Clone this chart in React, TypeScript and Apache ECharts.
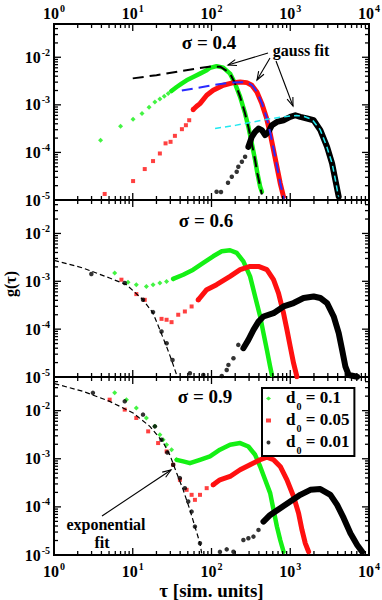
import React, { useEffect, useRef } from 'react';
import * as echarts from 'echarts';

const SERIF = "'Liberation Serif', 'DejaVu Serif', serif";
const GREEN = '#14f014';
const RED = '#ff1010';
const BLACK = '#000000';

const X_MIN = 1;
const X_MAX = 10000;
const Y_MIN = 1e-5;
const Y_MAX = 0.05;

const legendNames = ['d0 = 0.1', 'd0 = 0.05', 'd0 = 0.01'];
const legendValues = ['0.1', '0.05', '0.01'];
const panelTitles = ['σ = 0.4', 'σ = 0.6', 'σ = 0.9'];
const xDecades = [1, 10, 100, 1000];
const yDecades = [1e-5, 1e-4, 1e-3, 1e-2];
const tickFactors = [1, 2, 3, 4, 5, 6, 7, 8, 9];

// ---------- panel 1 : sigma = 0.4 ----------
const s04GreenPts = [[3.9, 1.8e-4], [7.0, 3.55e-4], [10.1, 5.0e-4], [13.1, 6.6e-4], [16.1, 8.9e-4], [19.1, 1.15e-3], [22.1, 1.33e-3], [25.1, 1.51e-3], [28.2, 1.73e-3], [31.1, 1.96e-3]];
const s04GreenBand = [[31, 1.96e-3], [36.1, 2.37e-3], [41.7, 2.8e-3], [48.3, 3.28e-3], [58.6, 3.85e-3], [71.4, 4.53e-3], [86.9, 5.31e-3], [95.7, 6.0e-3], [116, 6.5e-3], [141, 6.05e-3], [172, 4.53e-3], [199, 2.8e-3], [231, 1.47e-3], [267, 6.6e-4], [294, 3.44e-4], [325, 1.55e-4], [358, 6.9e-5], [383, 3.63e-5], [415, 1.9e-5], [436, 1.49e-5]];
const s04RedPts = [[4.4, 1.34e-5], [10.1, 2.5e-5], [14.2, 4.47e-5], [18.1, 6.58e-5], [22.1, 9.5e-5], [26.1, 1.55e-4], [30.2, 1.67e-4], [34.3, 2.23e-4], [42.1, 3.08e-4], [47.3, 3.73e-4], [52.1, 4.75e-4], [58.6, 7.96e-4]];
const s04RedBand = [[58.6, 7.96e-4], [64.8, 9.35e-4], [71.4, 1.06e-3], [86.9, 1.59e-3], [105, 2.02e-3], [141, 2.58e-3], [190, 2.93e-3], [231, 3.02e-3], [281, 2.93e-3], [325, 2.58e-3], [377, 1.86e-3], [436, 1.06e-3], [495, 5.57e-4], [556, 2.5e-4], [613, 1.12e-4], [677, 5.0e-5], [746, 2.24e-5], [822, 1.17e-5]];
const s04BlackPts = [[116, 1.49e-5], [132, 1.47e-5], [162, 2.31e-5], [181, 3.08e-5], [209, 3.92e-5], [219, 4.99e-5], [243, 6.35e-5], [267, 8.1e-5], [294, 1.31e-4]];
const s04BlackBand = [[294, 1.31e-4], [325, 2.12e-4], [358, 2.7e-4], [395, 3.18e-4], [436, 2.94e-4], [480, 2.31e-4], [529, 2.7e-4], [585, 3.73e-4], [677, 4.38e-4], [822, 4.75e-4], [1000, 5.57e-4], [1159, 6.05e-4], [1341, 5.57e-4], [1633, 5.16e-4], [1983, 4.75e-4], [2410, 2.94e-4], [2936, 1.31e-4], [3397, 5.87e-5], [3742, 2.62e-5], [4125, 1.17e-5]];
const s04FitBlack = [[10, 3.6e-3], [20, 4.2e-3], [40, 5.1e-3], [70, 5.9e-3], [100, 6.4e-3], [130, 6.3e-3], [170, 4.7e-3], [200, 2.8e-3], [230, 1.5e-3], [267, 6.6e-4], [294, 3.44e-4], [325, 1.55e-4], [358, 6.9e-5], [383, 3.6e-5], [415, 1.9e-5], [436, 1.3e-5]];
const s04FitBlue = [[42, 2.0e-3], [80, 2.4e-3], [130, 2.75e-3], [190, 2.95e-3], [240, 3.0e-3], [290, 2.9e-3], [330, 2.55e-3], [380, 1.85e-3], [440, 1.05e-3], [500, 5.5e-4], [560, 2.5e-4], [620, 1.1e-4], [680, 5.0e-5], [750, 2.2e-5], [830, 1.05e-5]];
const s04FitCyan = [[111, 3.2e-4], [200, 3.7e-4], [350, 4.4e-4], [550, 5.1e-4], [900, 5.7e-4], [1200, 6.0e-4], [1500, 5.7e-4], [1900, 4.9e-4], [2400, 3.0e-4], [2900, 1.35e-4], [3400, 5.9e-5], [3750, 2.6e-5], [4100, 1.15e-5]];

// ---------- panel 2 : sigma = 0.6 ----------
const s06Fit = [[1.0, 2.74e-3], [2.33, 1.9e-3], [5.09, 1.17e-3], [8.31, 8.5e-4], [13.5, 4.11e-4], [18.1, 2.16e-4], [22.1, 9.66e-5], [26.9, 4.31e-5], [31.1, 2.27e-5], [36.1, 1.1e-5]];
const s06GreenPts = [[5.9, 1.49e-3], [8.71, 9.6e-4], [11.1, 8.5e-4], [14.9, 7.8e-4], [18.1, 8.5e-4], [22.1, 9.2e-4], [26.9, 9.95e-4], [32.6, 1.12e-3]];
const s06GreenBand = [[32.6, 1.12e-3], [43.7, 1.37e-3], [58.6, 1.75e-3], [78.6, 2.42e-3], [105, 3.33e-3], [135, 4.24e-3], [172, 4.45e-3], [209, 3.92e-3], [254, 2.61e-3], [309, 1.27e-3], [358, 4.82e-4], [415, 1.84e-4], [457, 8.24e-5], [505, 3.68e-5], [556, 1.64e-5], [585, 1.1e-5]];
const s06RedPts = [[7.18, 1.08e-3], [11.1, 5.4e-4], [14.2, 4.1e-4], [23.2, 1.64e-4], [26.9, 1.57e-4], [31.1, 1.4e-4], [37.8, 2.0e-4], [45.9, 2.34e-4], [55.9, 2.98e-4], [67.9, 4.1e-4]];
const s06RedBand = [[67.9, 4.1e-4], [86.9, 6.67e-4], [116, 8.5e-4], [172, 1.27e-3], [231, 1.75e-3], [309, 2.05e-3], [395, 2.05e-3], [505, 1.75e-3], [613, 1.08e-3], [709, 5.69e-4], [822, 2.16e-4], [908, 9.66e-5], [1000, 4.31e-5], [1102, 1.94e-5], [1217, 1.01e-5]];
const s06BlackPts = [[2.98, 1.42e-3], [7.91, 9.2e-4], [13.5, 4.11e-4], [18.1, 2.27e-4], [23.2, 8.9e-5], [26.9, 5.09e-5], [32.0, 2.27e-5], [53.2, 1.2e-5], [78.6, 1.1e-5], [135, 1.05e-5], [156, 1.4e-5], [164, 1.79e-5], [190, 2.47e-5], [219, 4.69e-5], [254, 4.0e-5]];
const s06BlackBand = [[254, 4.0e-5], [294, 5.97e-5], [341, 9.66e-5], [395, 1.44e-4], [457, 1.84e-4], [613, 2.16e-4], [822, 2.98e-4], [1102, 3.51e-4], [1477, 4.47e-4], [1983, 4.82e-4], [2410, 4.47e-4], [2936, 3.51e-4], [3562, 1.84e-4], [4125, 8.24e-5], [4557, 3.68e-5], [5020, 1.64e-5], [5530, 1.1e-5], [7080, 1.01e-5]];

// ---------- panel 3 : sigma = 0.9 ----------
const s09Fit = [[1.01, 3.65e-2], [2.33, 2.52e-2], [5.09, 1.56e-2], [10.1, 8.96e-3], [16.5, 4.71e-3], [24.3, 2.2e-3], [29.6, 1.2e-3], [36.1, 5.04e-4], [43.7, 2.26e-4], [53.2, 8.66e-5], [61.6, 3.89e-5], [71.4, 1.75e-5], [75, 1.08e-5]];
const s09GreenPts = [[5.9, 2.34e-2], [8.31, 1.69e-2], [11.1, 1.14e-2], [14.9, 7.04e-3], [19.1, 4.71e-3], [22.1, 3.16e-3], [24.3, 2.49e-3], [26.9, 1.96e-3], [31.1, 1.54e-3], [36.1, 9.53e-4]];
const s09GreenBand = [[36.1, 9.5e-4], [43.7, 8.8e-4], [53.2, 8.1e-4], [71.4, 9.5e-4], [95.7, 1.12e-3], [128, 1.54e-3], [172, 1.96e-3], [231, 2.12e-3], [294, 1.8e-3], [358, 1.21e-3], [415, 6.9e-4], [480, 3.65e-4], [556, 1.93e-4], [613, 8.7e-5], [677, 3.9e-5], [746, 2.05e-5], [822, 1.17e-5]];
const s09RedPts = [[5.09, 1.69e-2], [7.91, 1.05e-2], [11.1, 7.04e-3], [15.7, 3.71e-3], [21.0, 2.12e-3], [26.9, 1.42e-3], [32.6, 7.5e-4], [39.7, 3.65e-4], [48.3, 2.26e-4], [55.9, 1.78e-4], [61.6, 1.4e-4], [71.4, 1.78e-4], [86.9, 2.45e-4], [105, 2.87e-4]];
const s09RedBand = [[105, 2.87e-4], [128, 3.65e-4], [172, 4.28e-4], [231, 5.9e-4], [309, 7.5e-4], [415, 9.53e-4], [505, 1.08e-3], [613, 9.53e-4], [746, 6.92e-4], [908, 3.65e-4], [1102, 1.64e-4], [1276, 7.4e-5], [1409, 3.32e-5], [1553, 1.75e-5], [1711, 1.17e-5]];
const s09BlackPts = [[3.12, 2.34e-2], [7.91, 1.56e-2], [13.5, 8.26e-3], [19.1, 4.71e-3], [23.2, 2.49e-3], [27.5, 1.35e-3], [32.6, 7.5e-4], [39.7, 3.96e-4], [45.9, 2.45e-4], [50.6, 1.29e-4], [55.9, 7.98e-5], [61.6, 3.89e-5], [71.4, 1.75e-5], [128, 1.16e-5], [156, 1.31e-5], [190, 1.17e-5], [254, 2.05e-5], [294, 2.23e-5], [341, 2.41e-5], [395, 3.32e-5], [457, 4.94e-5]];
const s09BlackBand = [[457, 4.94e-5], [556, 6.81e-5], [746, 9.39e-5], [1000, 1.29e-4], [1341, 1.78e-4], [1799, 2.26e-4], [2410, 2.34e-4], [3236, 1.78e-4], [3937, 1.1e-4], [4775, 5.82e-5], [5807, 2.83e-5], [7080, 1.62e-5], [8185, 1.17e-5]];

const expLabel = (v: number) => {
  const e = Math.log10(v);
  const r = Math.round(e);
  if (Math.abs(e - r) > 0.02) return '';
  return `{b|10}{s|${r}}`;
};

const richAxis = {
  b: { fontFamily: SERIF, fontWeight: 'bold', fontSize: 16, lineHeight: 20, color: '#000' },
  s: { fontFamily: SERIF, fontWeight: 'bold', fontSize: 10, lineHeight: 20, verticalAlign: 'top', color: '#000', padding: [0, 0, 0, 1] },
};

function scatter(name: string, data: number[][], i: number, symbol: string, color: string, size: number) {
  return { type: 'scatter', name, xAxisIndex: i, yAxisIndex: i, data, symbol, symbolSize: size, itemStyle: { color }, z: 2, silent: true };
}
function band(name: string, data: number[][], i: number, color: string, width: number) {
  return { type: 'line', name, xAxisIndex: i, yAxisIndex: i, data, symbol: 'none', showSymbol: false, lineStyle: { color, width, cap: 'round', join: 'round' }, z: 2, silent: true };
}
function fit(data: number[][], i: number, color: string, width: number, dash: number[]) {
  return { type: 'line', name: 'fit', xAxisIndex: i, yAxisIndex: i, data, symbol: 'none', showSymbol: false, lineStyle: { color, width, type: dash }, z: 4, silent: true };
}

function ticks(i: number) {
  return {
    type: 'custom', xAxisIndex: i, yAxisIndex: i, silent: true, z: 10, clip: false,
    data: [[X_MIN, Y_MIN]],
    renderItem: (_p: any, api: any) => {
      const children: any[] = [];
      const style = { stroke: '#000', lineWidth: 1.3 };
      const add = (x1: number, y1: number, x2: number, y2: number) =>
        children.push({ type: 'line', shape: { x1, y1, x2, y2 }, style });
      const xs: number[] = [];
      xDecades.forEach((d) => tickFactors.forEach((m) => xs.push(d * m)));
      xs.push(X_MAX);
      xs.forEach((v) => {
        const major = Math.abs(Math.log10(v) - Math.round(Math.log10(v))) < 1e-6;
        const len = major ? 7 : 4;
        const b = api.coord([v, Y_MIN]);
        const t = api.coord([v, Y_MAX]);
        add(b[0], b[1], b[0], b[1] - len);
        add(t[0], t[1], t[0], t[1] + len);
      });
      const ys: number[] = [];
      yDecades.forEach((d) => tickFactors.forEach((m) => { if (d * m < Y_MAX * 0.999) ys.push(d * m); }));
      ys.forEach((v) => {
        const major = Math.abs(Math.log10(v) - Math.round(Math.log10(v))) < 1e-6;
        const len = major ? 7 : 4;
        const l = api.coord([X_MIN, v]);
        const r = api.coord([X_MAX, v]);
        add(l[0], l[1], l[0] + len, l[1]);
        add(r[0], r[1], r[0] - len, r[1]);
      });
      return { type: 'group', children };
    },
  };
}

function arrow(x1: number, y1: number, x2: number, y2: number) {
  const ang = Math.atan2(y2 - y1, x2 - x1);
  const L = 9;
  const a = 0.35;
  const p1 = [x2 - L * Math.cos(ang - a), y2 - L * Math.sin(ang - a)];
  const p2 = [x2 - L * Math.cos(ang + a), y2 - L * Math.sin(ang + a)];
  return [
    { type: 'line', z: 100, shape: { x1, y1, x2, y2 }, style: { stroke: '#000', lineWidth: 1.1 } },
    { type: 'polyline', z: 100, shape: { points: [p1, [x2, y2], p2] }, style: { stroke: '#000', lineWidth: 1.1, fill: null } },
  ];
}

function label(text: string, x: number, y: number, size: number, rotation = 0) {
  return { type: 'text', z: 100, x, y, rotation, style: { text, font: `bold ${size}px ${SERIF}`, fill: '#000', align: 'center', verticalAlign: 'middle' } };
}

function buildOption() {
  const gridBoxes = [
    { left: 54, top: 24, width: 315, height: 176 },
    { left: 54, top: 200, width: 315, height: 177 },
    { left: 54, top: 377, width: 315, height: 178 },
  ];
  const grid = gridBoxes.map((g) => ({
    ...g, show: true, borderColor: '#000', borderWidth: 2, backgroundColor: 'transparent',
    containLabel: false, outerBoundsMode: 'none',
  }));
  const xAxis = [0, 1, 2].map((i) => ({
    type: 'log', logBase: 10, gridIndex: i, min: X_MIN, max: X_MAX,
    position: i === 0 ? 'top' : 'bottom',
    axisLine: { show: false }, axisTick: { show: false }, splitLine: { show: false },
    axisLabel: { show: i !== 1, margin: i === 0 ? 1 : 6, formatter: expLabel, rich: richAxis, showMinLabel: true, showMaxLabel: true, hideOverlap: false },
    name: i === 2 ? 'τ [sim. units]' : '',
    nameLocation: 'middle', nameGap: 26,
    nameTextStyle: { fontFamily: SERIF, fontWeight: 'bold', fontSize: 19, color: '#000' },
  }));
  const yAxis = [0, 1, 2].map((i) => ({
    type: 'log', logBase: 10, gridIndex: i, min: Y_MIN, max: Y_MAX,
    axisLine: { show: false }, axisTick: { show: false }, splitLine: { show: false },
    axisLabel: { margin: 4, formatter: expLabel, rich: richAxis, showMinLabel: true, showMaxLabel: true, hideOverlap: false },
  }));

  const [nG, nR, nK] = legendNames;
  const series: any[] = [
    scatter(nG, s04GreenPts, 0, 'diamond', GREEN, 5),
    band(nG, s04GreenBand, 0, GREEN, 4.5),
    scatter(nR, s04RedPts, 0, 'rect', RED, 4),
    band(nR, s04RedBand, 0, RED, 5),
    scatter(nK, s04BlackPts, 0, 'circle', BLACK, 4.5),
    band(nK, s04BlackBand, 0, BLACK, 6),
    fit(s04FitBlack, 0, '#000', 2, [11, 6]),
    fit(s04FitBlue, 0, '#2a2aff', 2, [11, 6]),
    fit(s04FitCyan, 0, '#20e8f0', 1.5, [6, 4]),

    scatter(nG, s06GreenPts, 1, 'diamond', GREEN, 5),
    band(nG, s06GreenBand, 1, GREEN, 4.5),
    scatter(nR, s06RedPts, 1, 'rect', RED, 4),
    band(nR, s06RedBand, 1, RED, 5),
    scatter(nK, s06BlackPts, 1, 'circle', BLACK, 4.5),
    band(nK, s06BlackBand, 1, BLACK, 6),
    fit(s06Fit, 1, '#000', 1.2, [5, 3]),

    scatter(nG, s09GreenPts, 2, 'diamond', GREEN, 5),
    band(nG, s09GreenBand, 2, GREEN, 4.5),
    scatter(nR, s09RedPts, 2, 'rect', RED, 4),
    band(nR, s09RedBand, 2, RED, 5),
    scatter(nK, s09BlackPts, 2, 'circle', BLACK, 4.5),
    band(nK, s09BlackBand, 2, BLACK, 6),
    fit(s09Fit, 2, '#000', 1.2, [5, 3]),

    ticks(0), ticks(1), ticks(2),
  ];

  const legendIcons = ['diamond', 'rect', 'circle'];
  const legend = {
    orient: 'vertical', left: 262, top: 388,
    padding: [1, 5, 1, 4], itemGap: 0, itemWidth: 5, itemHeight: 4,
    borderColor: '#000', borderWidth: 2, backgroundColor: '#fff',
    selectedMode: false,
    data: legendNames.map((name, k) => ({ name, icon: legendIcons[k] })),
    formatter: (name: string) => `{sp| }{b|d}{sub|0}{b| = ${legendValues[legendNames.indexOf(name)]}}`,
    textStyle: {
      color: '#000',
      rich: {
        sp: { width: 10 },
        b: { fontFamily: SERIF, fontWeight: 'bold', fontSize: 17, lineHeight: 19, verticalAlign: 'top', color: '#000' },
        sub: { fontFamily: SERIF, fontWeight: 'bold', fontSize: 10, lineHeight: 19, verticalAlign: 'top', padding: [12, 0, 0, 1], color: '#000' },
      },
    },
  };

  const graphic = [
    label('g(τ)', 10, 284, 16, Math.PI / 2),
    label(panelTitles[0], 209, 42, 19),
    label(panelTitles[1], 206, 220, 19),
    label(panelTitles[2], 205, 396, 19),
    label('gauss fit', 301, 50, 16),
    ...arrow(268, 53, 228, 65),
    ...arrow(270, 58, 257, 80),
    ...arrow(276, 61, 293, 106),
    label('exponential', 106, 524, 16),
    label('fit', 102, 542, 16),
    ...arrow(102, 516, 171, 470),
  ];

  return { animation: false, backgroundColor: '#fff', grid, xAxis, yAxis, series, legend, graphic };
}

export default function App() {
  const ref = useRef<HTMLDivElement>(null);
  useEffect(() => {
    if (!ref.current) return;
    const chart = echarts.init(ref.current, undefined, { renderer: 'svg' });
    chart.setOption(buildOption() as any);
    return () => chart.dispose();
  }, []);
  return <div ref={ref} style={{ position: 'fixed', left: 0, top: 0, width: 382, height: 600, background: '#fff' }} />;
}
